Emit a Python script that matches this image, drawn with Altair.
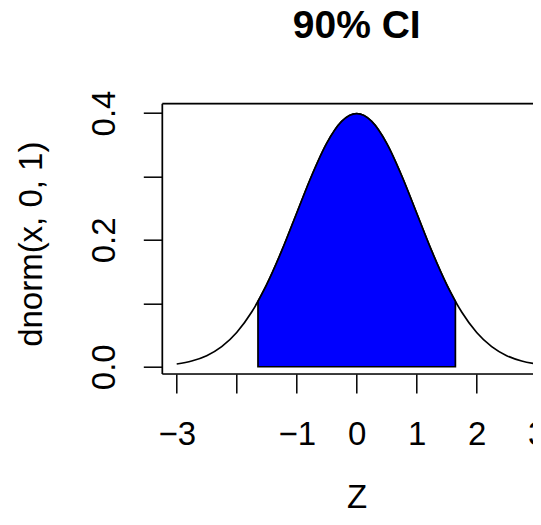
import altair as alt
import pandas as pd

# Standard normal density
x_curve = [-3.0, -2.75, -2.5, -2.25, -2.0, -1.75, -1.5, -1.25, -1.0, -0.75, -0.5, -0.25,
           0.0, 0.25, 0.5, 0.75, 1.0, 1.25, 1.5, 1.75, 2.0, 2.25, 2.5, 2.75, 3.0]
y_curve = [0.0044, 0.0091, 0.0175, 0.0317, 0.0540, 0.0863, 0.1295, 0.1826, 0.2420, 0.3011, 0.3521, 0.3867,
           0.3989, 0.3867, 0.3521, 0.3011, 0.2420, 0.1826, 0.1295, 0.0863, 0.0540, 0.0317, 0.0175, 0.0091, 0.0044]

# Shaded 90% region
x_shade = [-1.645, -1.5, -1.25, -1.0, -0.75, -0.5, -0.25, 0.0, 0.25, 0.5, 0.75, 1.0, 1.25, 1.5, 1.645]
y_shade = [0.1031, 0.1295, 0.1826, 0.2420, 0.3011, 0.3521, 0.3867, 0.3989, 0.3867, 0.3521, 0.3011,
           0.2420, 0.1826, 0.1295, 0.1031]

x_ticks = [-3, -2, -1, 0, 1, 2, 3]
y_ticks = [0.0, 0.1, 0.2, 0.3, 0.4]
title_text = "90% CI"
x_title = "Z"
y_title = "dnorm(x, 0, 1)"

FONT = "Liberation Sans"
W, H = 378.7, 270.3
x_dom = [-3.24, 3.072]
y_dom = [-0.0114, 0.4147]

curve_df = pd.DataFrame({"x": x_curve, "y": y_curve})
shade_df = pd.DataFrame({"x": x_shade, "y": y_shade})

x_enc = alt.X("x:Q", scale=alt.Scale(domain=x_dom, nice=False, zero=False),
              axis=alt.Axis(values=x_ticks, title=x_title, grid=False, domain=False,
                            tickSize=19, tickWidth=1.5, tickColor="black",
                            labelFont=FONT, labelFontSize=33, labelColor="black",
                            labelBaseline="alphabetic", labelPadding=52, labelFlush=False,
                            labelOverlap=False, labelBound=False,
                            labelExpr="datum.value == -2 ? '' : (datum.value < 0 ? '\u2212' + abs(datum.value) : format(datum.value, 'd'))",
                            titleFont=FONT, titleFontSize=33, titleFontWeight="normal", titleColor="black",
                            titleX=194.4, titleY=134, titleBaseline="alphabetic", titleAlign="center"))
y_enc = alt.Y("y:Q", scale=alt.Scale(domain=y_dom, nice=False, zero=False),
              axis=alt.Axis(values=y_ticks, title=y_title, grid=False, domain=False,
                            tickSize=19, tickWidth=1.5, tickColor="black",
                            labelFont=FONT, labelFontSize=33, labelColor="black",
                            labelAngle=270, labelAlign="center", labelBaseline="alphabetic",
                            labelPadding=28.3, labelFlush=False, labelOverlap=False,
                            labelExpr="(round(datum.value*10) % 2 == 0) ? format(datum.value, '.1f') : ''",
                            titleFont=FONT, titleFontSize=33, titleFontWeight="normal", titleColor="black",
                            titleAngle=270, titleX=-120.6, titleY=140, titleBaseline="alphabetic",
                            titleAlign="center"))

curve = alt.Chart(curve_df).mark_line(color="black", strokeWidth=1.7, interpolate="monotone").encode(
    x=x_enc, y=y_enc)

shade = alt.Chart(shade_df).mark_area(color="#0000FF", stroke="black", strokeWidth=1.7,
                                      interpolate="monotone").encode(x="x:Q", y="y:Q")

frame_df = pd.DataFrame({"k": [0]})
top_line = alt.Chart(frame_df).mark_rule(color="black", strokeWidth=1.7).encode(
    x=alt.value(0), x2=alt.value(W), y=alt.value(0))
left_line = alt.Chart(frame_df).mark_rule(color="black", strokeWidth=1.7).encode(
    x=alt.value(0), y=alt.value(0), y2=alt.value(H))
bottom_line = alt.Chart(frame_df).mark_rule(color="black", strokeWidth=1.7).encode(
    x=alt.value(0), x2=alt.value(W), y=alt.value(H))

title = alt.Chart(frame_df).mark_text(font=FONT, fontSize=39, fontWeight="bold", color="black",
                                      align="center", baseline="alphabetic").encode(
    x=alt.value(194.4), y=alt.value(-65.4), text=alt.value(title_text))

chart = alt.layer(curve, shade, top_line, left_line, bottom_line, title).properties(
    width=W, height=H,
    autosize=alt.AutoSizeParams(type="none"),
    padding={"left": 154.3, "top": 95.7, "right": -8.2, "bottom": 142},
).configure_view(stroke=None).configure(background="white")

chart.save("out.html", embed_options={"renderer": "svg", "actions": False})
